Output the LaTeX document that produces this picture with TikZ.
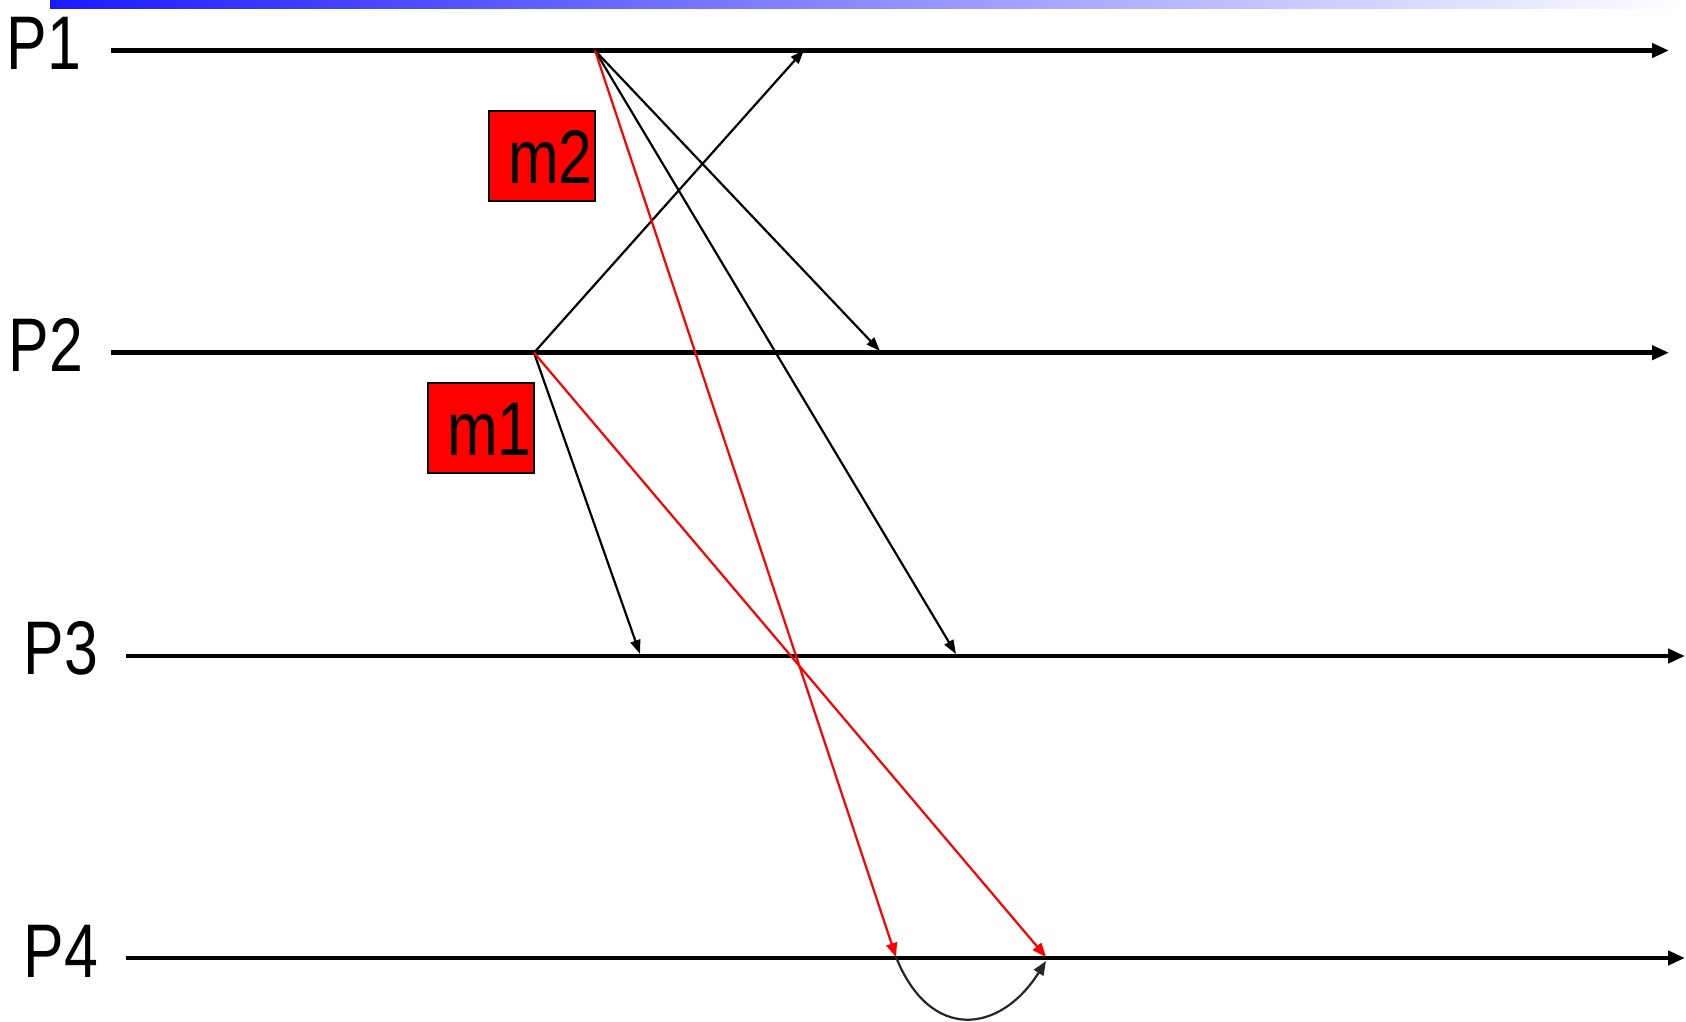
\documentclass[tikz,border=0pt]{standalone}
\usepackage{fontspec}
\setmainfont{Liberation Sans}
\usetikzlibrary{arrows.meta}
\definecolor{barblue}{RGB}{26,26,255}
\begin{document}
\begin{tikzpicture}[x=1pt,y=-1pt,
  procline/.style={line width=4.8pt,-{Triangle[length=17pt,width=14pt]}},
  msg/.style={line width=2.2pt,-{Triangle[length=14pt,width=10pt]}},
  redmsg/.style={msg,draw=red,-{Triangle[length=14pt,width=11pt,fill=red]}},
  plabel/.style={font=\fontsize{76}{90}\selectfont,xscale=0.8,inner sep=0pt},
  mbox/.style={draw=black,line width=1.8pt,fill=red,minimum width=106pt,minimum height=90pt,inner sep=0pt}
]
\useasboundingbox (0,0) rectangle (1686,1021);
\shade[left color=barblue,right color=white] (50,0) rectangle (1686,8);
% process lines
\coordinate (p1s) at (111,50.5); \coordinate (p1e) at (1669,50.5);
\coordinate (p2s) at (111,352.7); \coordinate (p2e) at (1669,352.7);
\coordinate (p3s) at (126,656); \coordinate (p3e) at (1685,656);
\coordinate (p4s) at (126,958); \coordinate (p4e) at (1685,958);
\draw[procline] (p1s) -- (p1e);
\draw[procline] (p2s) -- (p2e);
\draw[procline] (p3s) -- (p3e);
\draw[procline] (p4s) -- (p4e);
\node[plabel] (l1) at (44,43) {P1};
\node[plabel] (l2) at (46,345) {P2};
\node[plabel] (l3) at (61,648) {P3};
\node[plabel] (l4) at (61,951) {P4};
% events
\coordinate (a) at (595,50.5);
\coordinate (b) at (534,352.7);
\coordinate (a2) at (880,351);
\coordinate (a3) at (956,654);
\coordinate (a4) at (896,957);
\coordinate (b1) at (804,50);
\coordinate (b3) at (640,654);
\coordinate (b4) at (1046,957);
\draw[msg] (a) -- (a2);
\draw[msg] (a) -- (a3);
\draw[msg] (b) -- (b1);
\draw[msg] (b) -- (b3);
\draw[redmsg] (a) -- (a4);
\draw[redmsg] (b) -- (b4);
\draw[msg,draw=black!85,-{Triangle[length=14pt,width=11pt,fill=black!85]}] (a4) .. controls (930,1042) and (1000,1034) .. (1046,961);
% labels
\node[mbox] (m2) at (542,156) {};
\node[plabel,anchor=east] (m2t) at ([xshift=-3pt,yshift=-1pt]m2.east) {m2};
\node[mbox] (m1) at (481,428) {};
\node[plabel,anchor=east] (m1t) at ([xshift=-3pt,yshift=-1pt]m1.east) {m1};
\end{tikzpicture}
\end{document}
